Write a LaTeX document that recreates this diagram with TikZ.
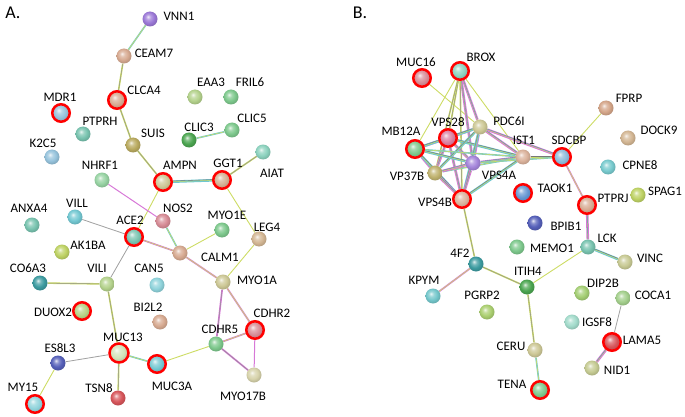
\documentclass[tikz,border=0pt]{standalone}
\usepackage{fontspec}
\setmainfont{Carlito}
\usetikzlibrary{backgrounds}
\makeatletter
\pgfdeclareradialshading[tikz@ball]{lball}{\pgfqpoint{-7bp}{8bp}}{color(0bp)=(tikz@ball!15!white); color(8bp)=(tikz@ball!70!white); color(18bp)=(tikz@ball); color(26bp)=(tikz@ball!88!black); color(50bp)=(tikz@ball!70!black)}
\makeatother
\definecolor{cPurple}{RGB}{155,120,215}
\definecolor{cTan}{RGB}{215,170,145}
\definecolor{cLBlue}{RGB}{150,195,220}
\definecolor{cTeal}{RGB}{120,195,175}
\definecolor{cOlive}{RGB}{185,170,95}
\definecolor{cLGreen}{RGB}{180,210,140}
\definecolor{cGreen}{RGB}{125,200,140}
\definecolor{cDGreen}{RGB}{75,165,80}
\definecolor{cKhaki}{RGB}{205,200,150}
\definecolor{cMint}{RGB}{140,210,190}
\definecolor{cPink}{RGB}{215,140,150}
\definecolor{cCyan}{RGB}{115,200,210}
\definecolor{cYG}{RGB}{190,210,100}
\definecolor{cDTeal}{RGB}{60,155,160}
\definecolor{cBlue}{RGB}{85,95,185}
\definecolor{cRed}{RGB}{215,85,90}
\definecolor{cMBlue}{RGB}{100,150,210}
\definecolor{eY}{RGB}{205,220,100}
\definecolor{eP}{RGB}{215,120,215}
\definecolor{eC}{RGB}{110,200,210}
\definecolor{eG}{RGB}{120,120,120}
\tikzset{
  prot/.style={circle, inner sep=0pt, minimum size=15pt, ball color=#1, shading=lball},
  hit/.style={circle, inner sep=0pt, minimum size=17.5pt, ball color=#1, shading=lball, draw=red, line width=2.5pt},
  lab/.style={font=\fontsize{13}{13}\selectfont, inner sep=0pt},
  panel/.style={font=\fontsize{18}{18}\selectfont, inner sep=0pt},
  ey/.style={draw=eY, line width=0.9pt},
  eg/.style={draw=eG!70, line width=0.8pt},
  eyg/.style={draw=eG!80, line width=0.5pt, preaction={draw=eY, line width=1.6pt}},
  ecy/.style={draw=eY, line width=0.6pt, preaction={draw=eC, line width=1.6pt}},
  epy/.style={draw=eY, line width=0.6pt, preaction={draw=eP, line width=1.7pt}},
  epg/.style={draw=eG!80, line width=0.5pt, preaction={draw=eP, line width=1.7pt}},
  ep/.style={draw=eP, line width=1.0pt},
  em/.style={draw=eY, line width=0.5pt, preaction={draw=eP, line width=2.6pt}, postaction={draw=eC!80!black, line width=0.4pt, transform canvas={yshift=0.6pt}}},
  emc/.style={draw=eY, line width=0.5pt, preaction={draw=eC, line width=2.6pt}, postaction={draw=eG, line width=0.4pt, transform canvas={yshift=0.7pt}}},
}
\begin{document}
\begin{tikzpicture}[x=1pt,y=-1pt]
\useasboundingbox (0,0) rectangle (685,417);
\node[panel] (pA) at (13,13) {A.};
\node[panel] (pB) at (360,13) {B.};
% ---------- Panel A nodes ----------
\node[prot=cPurple] (VNN1) at (150,19) {};
\node[prot=cTan] (CEAM7) at (124,56) {};
\node[hit=cTan] (CLCA4) at (117,100) {};
\node[hit=cLBlue] (MDR1) at (61,113) {};
\node[prot=cTeal] (PTPRH) at (83,134) {};
\node[prot=cLBlue] (K2C5) at (52,157) {};
\node[prot=cOlive] (SUIS) at (133,145) {};
\node[prot=cLGreen] (EAA3) at (195,97) {};
\node[prot=cGreen] (FRIL6) at (231,97) {};
\node[prot=cDGreen] (CLIC3) at (189,140) {};
\node[prot=cGreen] (CLIC5) at (232,130) {};
\node[prot=cGreen!80!white] (NHRF1) at (102,180) {};
\node[hit=cKhaki] (AMPN) at (163,182) {};
\node[hit=cTan!80!cKhaki] (GGT1) at (222,180) {};
\node[prot=cMint] (AIAT) at (263,152) {};
\node[prot=cPink] (NOS2) at (163,221) {};
\node[prot=cGreen] (MYO1E) at (222,230) {};
\node[prot=cTan!60!cKhaki] (LEG4) at (259,239) {};
\node[prot=cTan] (CALM1) at (180,253) {};
\node[prot=cTeal] (ANXA4) at (32,225) {};
\node[prot=cCyan] (VILL) at (75,217) {};
\node[hit=cTeal] (ACE2) at (134,237) {};
\node[prot=cYG] (AK1BA) at (62,252) {};
\node[prot=cDTeal] (CO6A3) at (40,283) {};
\node[prot=cLGreen] (VILI) at (107,284) {};
\node[prot=cCyan!80!white] (CAN5) at (157,285) {};
\node[hit=cLGreen!80!cYG] (DUOX2) at (82,311) {};
\node[prot=cTan] (BI2L2) at (160,322) {};
\node[hit=cLGreen!60!white, minimum size=19pt] (MUC13) at (119,353) {};
\node[prot=cBlue] (ES8L3) at (58,363) {};
\node[hit=cCyan] (MUC3A) at (157,364) {};
\node[prot=cRed] (TSN8) at (118,398) {};
\node[hit=cCyan!80!white] (MY15) at (35,404) {};
\node[prot=cKhaki] (MYO1A) at (223,282) {};
\node[hit=cPink] (CDHR2) at (255,330) {};
\node[prot=cGreen] (CDHR5) at (216,344) {};
\node[prot=cKhaki!80!white] (MYO17B) at (254,375) {};
% Panel A labels
\node[lab] (lVNN1) at (179,16) {VNN1};
\node[lab] (lCEAM7) at (154,53) {CEAM7};
\node[lab] (lCLCA4) at (144,90) {CLCA4};
\node[lab] (lMDR1) at (60,97) {MDR1};
\node[lab] (lPTPRH) at (100,121) {PTPRH};
\node[lab] (lK2C5) at (43,143) {K2C5};
\node[lab] (lSUIS) at (153,133) {SUIS};
\node[lab] (lEAA3) at (211,82) {EAA3};
\node[lab] (lFRIL6) at (250,82) {FRIL6};
\node[lab] (lCLIC3) at (199,127) {CLIC3};
\node[lab] (lCLIC5) at (252,118) {CLIC5};
\node[lab] (lNHRF1) at (100,165) {NHRF1};
\node[lab] (lAMPN) at (180,165) {AMPN};
\node[lab] (lGGT1) at (228,163) {GGT1};
\node[lab] (lAIAT) at (272,173) {AIAT};
\node[lab] (lNOS2) at (178,208) {NOS2};
\node[lab] (lMYO1E) at (227,215) {MYO1E};
\node[lab] (lLEG4) at (267,227) {LEG4};
\node[lab] (lCALM1) at (220,257) {CALM1};
\node[lab] (lANXA4) at (29,208) {ANXA4};
\node[lab] (lVILL) at (77,203) {VILL};
\node[lab] (lACE2) at (130,220) {ACE2};
\node[lab] (lAK1BA) at (88,245) {AK1BA};
\node[lab] (lCO6A3) at (28,268) {CO6A3};
\node[lab] (lVILI) at (97,268) {VILI};
\node[lab] (lCAN5) at (149,268) {CAN5};
\node[lab] (lDUOX2) at (53,312) {DUOX2};
\node[lab] (lBI2L2) at (148,307) {BI2L2};
\node[lab] (lMUC13) at (123,337) {MUC13};
\node[lab] (lES8L3) at (60,348) {ES8L3};
\node[lab] (lMUC3A) at (172,386) {MUC3A};
\node[lab] (lTSN8) at (99,388) {TSN8};
\node[lab] (lMY15) at (23,387) {MY15};
\node[lab] (lMYO1A) at (257,280) {MYO1A};
\node[lab] (lCDHR2) at (272,313) {CDHR2};
\node[lab] (lCDHR5) at (220,329) {CDHR5};
\node[lab] (lMYO17B) at (243,396) {MYO17B};
% ---------- Panel B nodes ----------
\node[hit=cPink] (MUC16) at (422,78) {};
\node[hit=cMint] (BROX) at (460,71) {};
\node[prot=cKhaki] (PDC6I) at (480,127) {};
\node[hit=cPink!90!magenta] (VPS28) at (448,138) {};
\node[hit=cGreen] (MB12A) at (415,149) {};
\node[prot=cTan!90!white] (IST1) at (523,157) {};
\node[hit=cLBlue!80!cMBlue] (SDCBP) at (562,157) {};
\node[prot=cPurple!90!white] (VPS4A) at (473,163) {};
\node[prot=cOlive!90!white] (VP37B) at (435,173) {};
\node[hit=cTan!90!white] (VPS4B) at (462,199) {};
\node[hit=cMBlue] (TAOK1) at (523,193) {};
\node[hit=cTan] (PTPRJ) at (587,205) {};
\node[prot=cYG] (SPAG1) at (638,195) {};
\node[prot=cCyan!80!cMint] (CPNE8) at (608,167) {};
\node[prot=cTan!60!cKhaki] (DOCK9) at (628,138) {};
\node[prot=cTan!90!brown] (FPRP) at (606,108) {};
\node[prot=cBlue] (BPIB1) at (535,223) {};
\node[prot=cTeal] (LCK) at (588,247) {};
\node[prot=cKhaki!80!cLGreen] (VINC) at (625,262) {};
\node[prot=cGreen] (MEMO1) at (517,247) {};
\node[prot=cDTeal] (4F2) at (476,264) {};
\node[prot=cCyan!80!cTeal] (KPYM) at (433,296) {};
\node[prot=cYG!70!cGreen] (PGRP2) at (487,312) {};
\node[prot=cDGreen] (ITIH4) at (527,287) {};
\node[prot=cYG!60!cGreen] (DIP2B) at (582,293) {};
\node[prot=cLGreen!70!cGreen] (COCA1) at (623,298) {};
\node[prot=cMint!80!white] (IGSF8) at (572,322) {};
\node[hit=cRed] (LAMA5) at (612,342) {};
\node[prot=cKhaki!70!cLGreen] (NID1) at (592,368) {};
\node[prot=cKhaki] (CERU) at (535,350) {};
\node[hit=cGreen] (TENA) at (540,390) {};
% Panel B labels
\node[lab] (lMUC16) at (416,62) {MUC16};
\node[lab] (lBROX) at (481,57) {BROX};
\node[lab] (lPDC6I) at (509,121) {PDC6I};
\node[lab] (lVPS28) at (448,122) {VPS28};
\node[lab] (lMB12A) at (401,131) {MB12A};
\node[lab] (lIST1) at (524,140) {IST1};
\node[lab] (lSDCBP) at (569,140) {SDCBP};
\node[lab] (lVPS4A) at (499,175) {VPS4A};
\node[lab] (lVP37B) at (407,176) {VP37B};
\node[lab] (lVPS4B) at (435,202) {VPS4B};
\node[lab] (lTAOK1) at (555,188) {TAOK1};
\node[lab] (lPTPRJ) at (613,198) {PTPRJ};
\node[lab] (lSPAG1) at (665,191) {SPAG1};
\node[lab] (lCPNE8) at (640,165) {CPNE8};
\node[lab] (lDOCK9) at (659,130) {DOCK9};
\node[lab] (lFPRP) at (629,98) {FPRP};
\node[lab] (lBPIB1) at (566,226) {BPIB1};
\node[lab] (lLCK) at (607,238) {LCK};
\node[lab] (lVINC) at (650,258) {VINC};
\node[lab] (lMEMO1) at (552,248) {MEMO1};
\node[lab] (l4F2) at (460,253) {4F2};
\node[lab] (lKPYM) at (424,280) {KPYM};
\node[lab] (lPGRP2) at (482,295) {PGRP2};
\node[lab] (lITIH4) at (528,271) {ITIH4};
\node[lab] (lDIP2B) at (603,283) {DIP2B};
\node[lab] (lCOCA1) at (653,295) {COCA1};
\node[lab] (lIGSF8) at (597,322) {IGSF8};
\node[lab] (lLAMA5) at (642,340) {LAMA5};
\node[lab] (lNID1) at (617,370) {NID1};
\node[lab] (lCERU) at (511,346) {CERU};
\node[lab] (lTENA) at (512,384) {TENA};
% ---------- Edges ----------
\begin{pgfonlayer}{background}
% Panel A
\draw[ecy] (VNN1) -- (CEAM7);
\draw[eyg] (CEAM7) -- (CLCA4);
\draw[eyg] (CLCA4) -- (SUIS);
\draw[eyg] (SUIS) -- (AMPN);
\draw[emc] (AMPN) -- (GGT1);
\draw[eyg] (GGT1) -- (AIAT);
\draw[ey] (GGT1) -- (LEG4);
\draw[ey] (AMPN) -- (ACE2);
\draw[ep] (NHRF1) -- (NOS2);
\draw[eg] (VILL) -- (ACE2);
\draw[eg] (ACE2) -- (VILI);
\draw[epy] (ACE2) -- (CALM1);
\draw[ecy] (NOS2) -- (CALM1);
\draw[ey] (CALM1) -- (MYO1E);
\draw[epy] (CALM1) -- (MYO1A);
\draw[ey] (LEG4) -- (MYO1A);
\draw[epg] (MYO1A) -- (CDHR5);
\draw[epy] (MYO1A) -- (CDHR2);
\draw[epy] (CDHR2) -- (CDHR5);
\draw[ep] (CDHR2) -- (MYO17B);
\draw[epg] (CDHR5) -- (MYO17B);
\draw[ey] (CDHR5) -- (MUC3A);
\draw[ecy] (MUC13) -- (MUC3A);
\draw[eyg] (MUC13) -- (VILI);
\draw[eg] (MUC13) -- (ES8L3);
\draw[eyg] (MUC13) -- (TSN8);
\draw[ey] (ES8L3) -- (MY15);
\draw[eyg] (CO6A3) -- (VILI);
\draw[ecy] (CLIC3) -- (CLIC5);
% Panel B cluster
\draw[ey] (MUC16) -- (PDC6I);
\draw[ey] (BROX) -- (MB12A);
\draw[eyg] (BROX) -- (VPS28);
\draw[em] (BROX) -- (PDC6I);
\draw[em] (BROX) -- (VPS4A);
\draw[eyg] (BROX) -- (VP37B);
\draw[eyg] (BROX) -- (VPS4B);
\draw[ey] (BROX) -- (IST1);
\draw[em] (VPS28) -- (PDC6I);
\draw[em] (VPS28) -- (MB12A);
\draw[em] (VPS28) -- (VP37B);
\draw[em] (VPS28) -- (VPS4A);
\draw[em] (VPS28) -- (VPS4B);
\draw[emc] (VPS28) -- (IST1);
\draw[emc] (PDC6I) -- (MB12A);
\draw[em] (PDC6I) -- (VPS4A);
\draw[emc] (PDC6I) -- (VPS4B);
\draw[em] (PDC6I) -- (IST1);
\draw[em] (PDC6I) -- (SDCBP);
\draw[emc] (PDC6I) -- (VP37B);
\draw[em] (MB12A) -- (VP37B);
\draw[emc] (MB12A) -- (VPS4A);
\draw[emc] (MB12A) -- (VPS4B);
\draw[ecy] (MB12A) -- (IST1);
\draw[em] (IST1) -- (VPS4A);
\draw[emc] (IST1) -- (VPS4B);
\draw[emc] (IST1) -- (SDCBP);
\draw[ecy] (IST1) -- (VP37B);
\draw[em] (VPS4A) -- (VPS4B);
\draw[em] (VPS4A) -- (VP37B);
\draw[ecy] (VPS4A) -- (SDCBP);
\draw[em] (VP37B) -- (VPS4B);
% Panel B others
\draw[ey] (SDCBP) -- (FPRP);
\draw[epy] (SDCBP) -- (PTPRJ);
\draw[em] (PTPRJ) -- (LCK);
\draw[emc] (LCK) -- (VINC);
\draw[ey] (LCK) -- (ITIH4);
\draw[eyg] (VPS4B) -- (4F2);
\draw[epy] (4F2) -- (KPYM);
\draw[eyg] (4F2) -- (ITIH4);
\draw[eyg] (ITIH4) -- (CERU);
\draw[ecy] (CERU) -- (TENA);
\draw[eg] (COCA1) -- (LAMA5);
\draw[em] (LAMA5) -- (NID1);
\end{pgfonlayer}
\end{tikzpicture}
\end{document}
